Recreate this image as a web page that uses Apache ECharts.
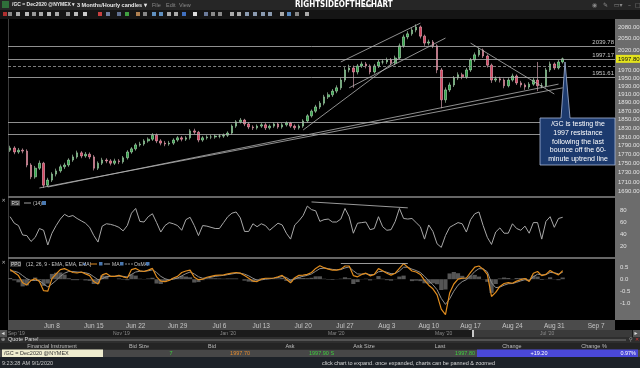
<!DOCTYPE html>
<html><head><meta charset="utf-8">
<script src="https://cdn.jsdelivr.net/npm/echarts@6/dist/echarts.min.js"></script>
<style>html,body{margin:0;padding:0;background:#000;}#c{width:640px;height:368px;}</style>
</head><body><div id="c"></div>
<script>
// ---------- data ----------
const weekLabels = ['Jun 1','Jun 8','Jun 15','Jun 22','Jun 29','Jul 6','Jul 13','Jul 20','Jul 27','Aug 3','Aug 10','Aug 17','Aug 24','Aug 31','Sep 7'];
const slotsPerWeek = 10;      // two 12-hour candles per trading day
const totalSlots = 145;       // visible range runs to ~Sep 11

const opens = [1780,1785,1776,1780,1778,1747,1721,1740,1751,1703,
1714,1727,1734,1743,1747,1758,1765,1774,1767,1771,
1765,1740,1751,1758,1756,1751,1756,1754,1763,1776,
1783,1792,1794,1801,1805,1814,1801,1796,1794,1796,
1803,1808,1805,1808,1824,1821,1803,1808,1810,1810,
1812,1812,1814,1819,1835,1845,1849,1840,1833,1831,
1835,1838,1831,1835,1840,1833,1838,1842,1835,1831,
1835,1847,1859,1870,1880,1889,1904,1909,1918,1926,
1945,1970,1975,1965,1980,1985,1980,1965,1980,1990,
1990,1995,1987,2000,2031,2054,2062,2072,2080,2056,
2038,2041,2031,1970,1897,1921,1933,1950,1958,1953,
1970,1995,2008,2020,2005,1982,1945,1948,1945,1931,
1945,1955,1938,1933,1928,1935,1945,1931,1931,1970,
1985,1975,1990];
const closes = [1785,1776,1780,1778,1747,1721,1740,1751,1703,1714,
1727,1734,1743,1747,1758,1765,1774,1767,1771,1765,
1740,1751,1758,1756,1751,1756,1754,1763,1776,1783,
1792,1794,1801,1805,1814,1801,1796,1794,1796,1803,
1808,1805,1808,1824,1821,1803,1808,1810,1810,1812,
1812,1814,1819,1835,1845,1849,1840,1833,1831,1835,
1838,1831,1835,1840,1833,1838,1842,1835,1831,1835,
1847,1859,1870,1880,1889,1904,1909,1918,1926,1945,
1970,1975,1965,1980,1985,1980,1965,1980,1990,1990,
1995,1987,2000,2031,2054,2062,2072,2080,2056,2038,
2041,2031,1970,1897,1921,1933,1950,1958,1953,1970,
1995,2008,2020,2005,1982,1945,1948,1945,1931,1945,
1955,1938,1933,1928,1935,1945,1931,1931,1970,1985,
1975,1990,1997.8];
const lows = [1776,1771,1772,1773,1742,1716,1717,1736,1697,1699,
1710,1722,1730,1738,1743,1754,1761,1762,1763,1760,
1735,1736,1747,1751,1746,1747,1749,1750,1759,1772,
1779,1788,1790,1797,1801,1796,1791,1789,1790,1792,
1799,1800,1801,1804,1816,1798,1799,1804,1805,1806,
1807,1808,1810,1815,1831,1841,1835,1828,1826,1827,
1831,1826,1827,1831,1829,1829,1834,1831,1826,1827,
1831,1843,1855,1866,1875,1884,1899,1904,1913,1921,
1940,1964,1926,1959,1975,1974,1959,1961,1975,1984,
1985,1981,1982,1996,2026,2048,2057,2066,2050,2031,
2032,2025,1962,1877,1890,1916,1928,1945,1947,1948,
1965,1990,2003,2000,1976,1938,1940,1939,1925,1927,
1941,1933,1927,1921,1923,1931,1918,1925,1927,1965,
1970,1971,1986];
const highs = [1790,1789,1785,1784,1782,1751,1745,1757,1754,1719,
1731,1739,1748,1752,1762,1770,1779,1778,1776,1775,
1769,1755,1763,1762,1760,1761,1760,1767,1780,1787,
1796,1799,1805,1809,1819,1818,1805,1801,1801,1807,
1812,1812,1812,1828,1829,1824,1812,1814,1815,1816,
1817,1818,1823,1839,1849,1854,1852,1844,1837,1839,
1842,1842,1839,1844,1843,1842,1846,1845,1839,1839,
1851,1863,1874,1885,1894,1909,1915,1923,1932,1951,
1977,1983,1981,1985,1991,1990,1984,1985,1995,1996,
2001,2000,2006,2037,2060,2069,2078,2087,2084,2060,
2047,2046,2035,1975,1927,1939,1955,1964,1963,1975,
2000,2014,2026,2024,2009,1986,1954,1953,1949,1951,
1961,1959,1943,1937,1940,1950,1990,1938,1975,1991,
1989,1995,2001];
const rsi = [70,59,55,39,38,28,35,50,47,22,
42,55,66,74,70,72,67,63,59,52,
38,27,54,58,57,55,52,46,55,76,
84,62,61,70,75,60,44,55,60,58,
55,47,65,69,55,38,55,54,52,50,
50,60,70,76,78,68,45,45,58,53,
58,55,47,53,59,56,42,32,56,63,
72,88,82,80,62,65,66,61,61,66,
84,70,42,59,60,61,48,50,70,53,
47,48,62,84,67,66,67,60,53,32,
56,45,24,18,38,52,56,60,58,44,
65,75,78,55,35,23,44,51,42,42,
58,50,47,54,42,60,60,32,62,70,
52,67,69];
const ppo = [0.40,0.28,0.15,-0.15,-0.24,-0.05,0.02,-0.10,-0.48,-0.50,
0.02,0.22,0.40,0.44,0.36,0.28,0.26,0.30,0.22,0.15,
-0.10,-0.20,0.18,0.24,0.12,0.12,0.16,0.10,0.05,0.40,
0.45,0.35,0.32,0.38,0.45,0.10,-0.08,-0.10,-0.05,0.05,
0.12,0.28,0.34,0.38,0.08,-0.02,0.00,0.08,0.12,0.16,
0.17,0.18,0.22,0.25,0.28,0.25,0.15,0.04,-0.08,-0.10,
0.00,0.04,0.04,0.05,0.10,0.16,0.00,-0.15,0.06,0.16,
0.17,0.20,0.28,0.45,0.56,0.48,0.42,0.38,0.38,0.42,
0.55,0.55,0.15,0.10,0.20,0.25,0.14,0.20,0.44,0.35,
0.25,0.17,0.25,0.45,0.65,0.50,0.34,0.30,0.20,-0.05,
-0.25,-0.40,-0.65,-1.25,-1.48,-0.58,-0.20,0.00,0.04,0.05,
0.28,0.50,0.55,0.42,0.20,-0.72,-0.55,-0.30,-0.18,-0.14,
-0.17,-0.08,-0.02,0.03,-0.10,0.25,0.32,0.15,0.20,0.36,
0.26,0.18,0.36];
const ppoSignal = [0.35,0.33,0.28,0.15,0.02,-0.05,-0.05,-0.06,-0.20,-0.32,
-0.20,-0.05,0.12,0.25,0.32,0.32,0.30,0.29,0.27,0.22,
0.10,-0.02,0.02,0.10,0.12,0.12,0.13,0.12,0.09,0.20,
0.30,0.33,0.33,0.35,0.39,0.28,0.12,0.02,-0.03,0.00,
0.05,0.14,0.23,0.30,0.22,0.10,0.04,0.05,0.08,0.12,
0.14,0.16,0.19,0.22,0.25,0.25,0.21,0.14,0.04,-0.04,
-0.03,0.00,0.02,0.04,0.07,0.11,0.07,-0.04,0.00,0.08,
0.12,0.16,0.22,0.33,0.44,0.46,0.44,0.41,0.39,0.40,
0.47,0.51,0.35,0.22,0.21,0.23,0.19,0.19,0.31,0.33,
0.29,0.23,0.24,0.34,0.50,0.50,0.42,0.36,0.28,0.12,
-0.06,-0.23,-0.44,-0.80,-1.05,-0.82,-0.50,-0.25,-0.10,-0.02,
0.13,0.32,0.44,0.43,0.31,-0.15,-0.35,-0.33,-0.25,-0.19,
-0.18,-0.13,-0.07,-0.02,-0.06,0.10,0.21,0.18,0.19,0.28,
0.27,0.22,0.29];

const priceTicks = [2080,2050,2020,1970,1950,1930,1910,1890,1870,1850,1830,1810,1790,1770,1750,1730,1710,1690];
const rsiTicks = [20,40,60,80];
const ppoTicks = [0.5,0,-0.5,-1];
const levelValues = [2029.78,1997.17,1951.61,1844.6,1816.8];
const levelLabels = ['2039.78','1997.17','1951.61','',''];
const prevClose = 1978.6;
const lastPrice = 1997.8;
const trendLines = [
  [[7,1697],[132,1926]],
  [[9,1699],[131,1935]],
  [[79,1990],[98,2090]],
  [[81,1926],[104,2051]],
  [[70,1826],[93,2000]],
  [[110,2038],[130,1911]]
];
const rsiTrend = [[72,95],[95,85]];
const ppoTrend = [[79,0.68],[95,0.68]];
const navLabels = ["Sep '19","Nov '19","Jan '20","Mar '20","May '20","Jul '20"];

// ---------- build ----------
const cats = [];
for (let k = 0; k < weekLabels.length; k++)
  for (let s = 0; s < slotsPerWeek; s++) cats.push(s === 0 ? weekLabels[k] : weekLabels[k] + '_' + s);
cats.length = totalSlots;
const candles = opens.map((o, i) => [o, closes[i], lows[i], highs[i]]);
const osma = ppo.map((v, i) => +(v - ppoSignal[i]).toFixed(3));

const FF = '"Liberation Sans", Arial, sans-serif';
const HIDE = {color: 'rgba(0,0,0,0)', width: 0};
const mainLines = [];
trendLines.forEach(t => mainLines.push([{coord: t[0]}, {coord: t[1]}]));
levelValues.forEach((v, i) => mainLines.push({
  yAxis: v,
  label: {show: !!levelLabels[i], formatter: levelLabels[i] || ' ', position: 'insideEndTop', distance: 1, color: '#c8c8c8', fontSize: 6, fontFamily: FF}
}));
mainLines.push({yAxis: prevClose, lineStyle: {type: [3, 2], color: '#9a9a9a'}});
priceTicks.forEach(v => mainLines.push({
  yAxis: v, lineStyle: HIDE,
  label: {show: true, formatter: v.toFixed(2), position: 'end', distance: 3, color: '#e2e2e2', fontSize: 6, fontFamily: FF}
}));
mainLines.push({
  yAxis: lastPrice, lineStyle: HIDE,
  label: {show: true, formatter: lastPrice.toFixed(2), position: 'end', distance: 1, color: '#111', backgroundColor: '#e4e41c', padding: [1, 2], fontSize: 6, fontFamily: FF}
});

function R(x, y, w, h, fill, z) {
  return {type: 'rect', shape: {x, y, width: w, height: h}, style: {fill}, z: z === undefined ? -5 : z, silent: true};
}
function T(text, x, y, o) {
  o = o || {};
  return {type: 'text', z: o.z === undefined ? 50 : o.z, silent: true,
    style: {text, x, y, fill: o.c || '#cfcfcf', fontSize: o.s || 6, fontFamily: o.f || FF, fontWeight: o.b ? 'bold' : 'normal',
      align: o.a || 'left', verticalAlign: 'middle'}};
}
function L(x1, y1, x2, y2, c, w, z) {
  return {type: 'line', shape: {x1, y1, x2, y2}, style: {stroke: c, lineWidth: w || 1}, z: z === undefined ? -4 : z, silent: true};
}

const g = [];
// window chrome
g.push(R(0, 0, 640, 10, '#262626'));
g.push(R(0, 10, 640, 9, '#151515'));
g.push(R(2, 1, 7, 7, '#2f6f3a'));
g.push(T('/GC = Dec2020 @NYMEX ▾', 12, 5, {s: 5, c: '#e8e8e8', b: true}));
g.push(T('3 Months/Hourly candles ▾', 77, 5, {s: 5.5, c: '#e8e8e8', b: true}));
g.push(T('File', 152, 5, {s: 5.5, c: '#8a8a8a'}));
g.push(T('Edit', 166, 5, {s: 5.5, c: '#8a8a8a'}));
g.push(T('View', 179, 5, {s: 5.5, c: '#8a8a8a'}));
g.push(T('RIGHTSIDEOFTHECHART', 295, 5, {s: 8, c: '#ffffff', b: true, f: '"Liberation Sans Narrow","DejaVu Sans Condensed",sans-serif'}));
g.push(T('.com', 362, 6, {s: 4.5, c: '#ffffff', b: true}));
g.push(T('◉   ✎   ▭▾   –  □  ✕', 592, 5, {s: 6, c: '#8a8a8a', f: '"DejaVu Sans",sans-serif'}));
// toolbar icons
const iconX = [3, 8, 16, 25, 32, 39, 47, 55, 66, 74, 83, 98, 106, 117, 125, 136, 143, 152, 159, 167, 174, 182, 193, 204, 211, 218, 230, 237, 245, 253, 261, 268, 280, 287, 295, 305];
const iconC = ['#b03030', '#888', '#aaa', '#bbb', '#999', '#aaa', '#bbb', '#aaa', '#999', '#bbb', '#ccc', '#c84040', '#7080a0', '#607090', '#40a040', '#b08050', '#888', '#6090c0', '#6090c0', '#aaa', '#aaa', '#4070c0', '#ddd', '#6a7a9a', '#8a8a8a', '#8a8a8a', '#aaa', '#aaa', '#8a9ab0', '#8a9ab0', '#8a9ab0', '#8a9ab0', '#aaa', '#5a8ac0', '#888', '#aaa'];
iconX.forEach((x, i) => g.push(R(x, 12, 4, 4, iconC[i], -3)));
// price/indicator axis strip and separators
g.push(R(615, 19, 25, 301, '#6c6c6c'));
g.push(L(8.5, 19, 8.5, 320, '#3c3c3c'));
g.push(R(8, 196, 607, 2, '#666666', 10));
g.push(R(8, 257, 607, 2, '#666666', 10));
// x-axis band, navigator
g.push(R(8, 320, 607, 10, '#4b4b4b'));
g.push(R(0, 330, 640, 7, '#1b1b1b'));
g.push(R(473, 330, 159, 7, '#3a3a3a'));
g.push(R(472, 330, 2, 7, '#c8c8c8', -3));
g.push(R(0, 330, 7, 7, '#555', -3));
g.push(R(633, 330, 7, 7, '#555', -3));
g.push(T('◂', 1.5, 333.5, {s: 6, c: '#ddd', f: '"DejaVu Sans",sans-serif'}));
g.push(T('▸', 634.5, 333.5, {s: 6, c: '#ddd', f: '"DejaVu Sans",sans-serif'}));
const navX = [8, 113, 220, 328, 435, 540];
navLabels.forEach((t, i) => g.push(T(t, navX[i], 333.5, {s: 5, c: '#8a8a8a'})));
// quote panel
g.push(R(0, 337, 640, 6, '#2e2e2e'));
g.push(T('⊕', 1, 339.8, {s: 5, c: '#bbb', f: '"DejaVu Sans",sans-serif'}));
g.push(T('Quote Panel', 8, 339.8, {s: 5.5, c: '#dedede'}));
g.push(L(39, 340, 626, 340, '#8a8a8a', 0.8, -3));
g.push(T('⚲', 629, 339.8, {s: 5, c: '#aaa', f: '"DejaVu Sans",sans-serif'}));
g.push(T('✕', 635, 339.8, {s: 5, c: '#d03030', f: '"DejaVu Sans",sans-serif'}));
g.push(R(0, 343, 640, 6.5, '#242424'));
const hdrs = [['Financial Instrument', 52], ['Bid Size', 139], ['Bid', 212], ['Ask', 290], ['Ask Size', 364], ['Last', 440], ['Change', 512], ['Change %', 594]];
hdrs.forEach(h => g.push(T(h[0], h[1], 346.2, {s: 5.5, c: '#bdbdbd', a: 'center'})));
g.push(R(0, 349.5, 640, 7.5, '#474747'));
g.push(R(2, 349.5, 101, 7.5, '#efedcf', -4));
g.push(R(477, 349.5, 161, 7.5, '#4a48d8', -4));
g.push(T('/GC = Dec2020 @NYMEX', 4, 353.3, {s: 5.5, c: '#333'}));
g.push(T('7', 171, 353.3, {s: 5.5, c: '#3ecf3e', a: 'center'}));
g.push(T('1997.70', 250, 353.3, {s: 5.5, c: '#e08a30', a: 'right'}));
g.push(T('1997.90 S', 309, 353.3, {s: 5.5, c: '#3ecf3e'}));
g.push(T('1997.80', 475, 353.3, {s: 5.5, c: '#3ecf3e', a: 'right'}));
g.push(T('+19.20', 539, 353.3, {s: 5.5, c: '#ffffff', a: 'center'}));
g.push(T('0.97%', 636, 353.3, {s: 5.5, c: '#ffffff', a: 'right'}));
g.push(R(0, 357, 640, 11, '#1d2228'));
g.push(T('9:23:28 AM 9/1/2020', 2, 363.3, {s: 5.5, c: '#c8c8c8'}));
g.push(T('click chart to expand. once expanded, charts can be panned & zoomed', 322, 363.3, {s: 5.5, c: '#d8d8d8'}));
// indicator headers
g.push(T('✕', 1.5, 201, {s: 5, c: '#bbb', f: '"DejaVu Sans",sans-serif'}));
g.push(T('✕', 1.5, 262.5, {s: 5, c: '#bbb', f: '"DejaVu Sans",sans-serif'}));
g.push(R(10.5, 200, 9.5, 6, '#333', 20));
g.push(T('RSI', 11.5, 203.2, {s: 4.8, c: '#dcdcdc', z: 21}));
g.push(L(24, 203, 31, 203, '#c8c8c8', 0.8, 21));
g.push(T('(14)', 33, 203.2, {s: 5, c: '#c8c8c8', z: 21}));
g.push(R(42, 201, 4, 4, '#4a78b0', 21));
g.push(R(10, 261, 11, 6, '#333', 20));
g.push(T('PPO', 11, 264.2, {s: 4.8, c: '#dcdcdc', z: 21}));
g.push(T('(12, 26, 9 - EMA, EMA, EMA)', 26, 264.2, {s: 5, c: '#c8c8c8', z: 21}));
g.push(T('▴', 83, 264, {s: 5, c: '#5a8ad0', z: 21, f: '"DejaVu Sans",sans-serif'}));
g.push(L(90, 264, 97, 264, '#e08a20', 1, 21));
g.push(R(99, 262, 3.5, 3.5, '#4a78b0', 21));
g.push(L(104, 264, 110, 264, '#c8c8c8', 0.8, 21));
g.push(T('MA', 112, 264.2, {s: 5, c: '#c8c8c8', z: 21}));
g.push(R(120, 262, 3.5, 3.5, '#4a78b0', 21));
g.push({type: 'line', shape: {x1: 125, y1: 264, x2: 133, y2: 264}, style: {stroke: '#aaa', lineWidth: 0.8, lineDash: [2, 1]}, z: 21, silent: true});
g.push(T('OsMA', 134, 264.2, {s: 5, c: '#c8c8c8', z: 21}));
g.push(R(146, 262, 3.5, 3.5, '#4a78b0', 21));
// annotation callout
g.push({type: 'polygon', z: 100, silent: true,
  shape: {points: [[540, 118], [561, 118], [565, 62], [570, 118], [615, 118], [615, 165], [540, 165]]},
  style: {fill: '#1c3a6e', stroke: '#a8b8d8', lineWidth: 0.8}});
['/GC is testing the', '1997 resistance', 'following the last', 'bounce off the 60-', 'minute uptrend line'].forEach((t, i) =>
  g.push(T(t, 578, 124.5 + i * 8.6, {s: 7, c: '#ffffff', a: 'center', z: 101})));

const axisCommon = {axisLine: {show: false}, axisTick: {show: false}, splitLine: {show: false}};
const chart = echarts.init(document.getElementById('c'), null, {renderer: 'canvas'});
chart.setOption({
  backgroundColor: '#000000',
  animation: false,
  textStyle: {fontFamily: FF},
  grid: [
    {left: 8, right: 25, top: 20, height: 175},
    {left: 8, right: 25, top: 199, height: 59},
    {left: 8, right: 25, top: 260, height: 60}
  ],
  xAxis: [
    Object.assign({type: 'category', data: cats, gridIndex: 0, axisLabel: {show: false}}, axisCommon),
    Object.assign({type: 'category', data: cats, gridIndex: 1, axisLabel: {show: false}}, axisCommon),
    Object.assign({type: 'category', data: cats, gridIndex: 2,
      axisLabel: {show: true, color: '#c4c4c4', fontSize: 6.5, margin: 3,
        interval: (i) => i % slotsPerWeek === 0 && i > 0,
        formatter: (v) => v}}, axisCommon)
  ],
  yAxis: [
    Object.assign({type: 'log', logBase: 10, gridIndex: 0, min: 1682, max: 2098.4, position: 'right', axisLabel: {show: false}}, axisCommon),
    Object.assign({type: 'value', gridIndex: 1, min: 0, max: 100, interval: 20, position: 'right',
      axisLabel: {color: '#e2e2e2', fontSize: 6, margin: 5, formatter: (v) => rsiTicks.includes(v) ? String(v) : ''}}, axisCommon),
    Object.assign({type: 'value', gridIndex: 2, min: -1.7, max: 0.8, interval: 0.1, position: 'right',
      axisLabel: {color: '#e2e2e2', fontSize: 6, margin: 5, formatter: (v) => {
        const t = ppoTicks.find(p => Math.abs(p - v) < 1e-6); return t === undefined ? '' : t.toFixed(1);}}}, axisCommon)
  ],
  series: [
    {type: 'candlestick', xAxisIndex: 0, yAxisIndex: 0, data: candles, barWidth: '50%', clip: false,
      itemStyle: {color: '#2fa84a', color0: '#d8435f', borderColor: '#b8e0bc', borderColor0: '#f0b4c2', borderWidth: 0.6},
      markLine: {silent: true, symbol: ['none', 'none'], animation: false, precision: 2,
        label: {show: false}, lineStyle: {color: '#b4b4b4', width: 0.8, type: 'solid'}, data: mainLines}},
    {type: 'line', xAxisIndex: 1, yAxisIndex: 1, data: rsi, showSymbol: false, lineStyle: {color: '#a8a8a8', width: 1},
      markLine: {silent: true, symbol: ['none', 'none'], label: {show: false}, lineStyle: {color: '#c0c0c0', width: 0.8, type: 'solid'},
        data: [[{coord: rsiTrend[0]}, {coord: rsiTrend[1]}]]}},
    {type: 'bar', xAxisIndex: 2, yAxisIndex: 2, data: osma, barWidth: '100%', itemStyle: {color: '#555555'}},
    {type: 'line', xAxisIndex: 2, yAxisIndex: 2, data: ppoSignal, showSymbol: false, lineStyle: {color: '#8e8e8e', width: 1}},
    {type: 'line', xAxisIndex: 2, yAxisIndex: 2, data: ppo, showSymbol: false, lineStyle: {color: '#e08c1e', width: 1.2},
      markLine: {silent: true, symbol: ['none', 'none'], label: {show: false}, lineStyle: {color: '#c0c0c0', width: 0.8, type: 'solid'},
        data: [[{coord: ppoTrend[0]}, {coord: ppoTrend[1]}]]}}
  ],
  graphic: {elements: g}
});
</script>
</body></html>
